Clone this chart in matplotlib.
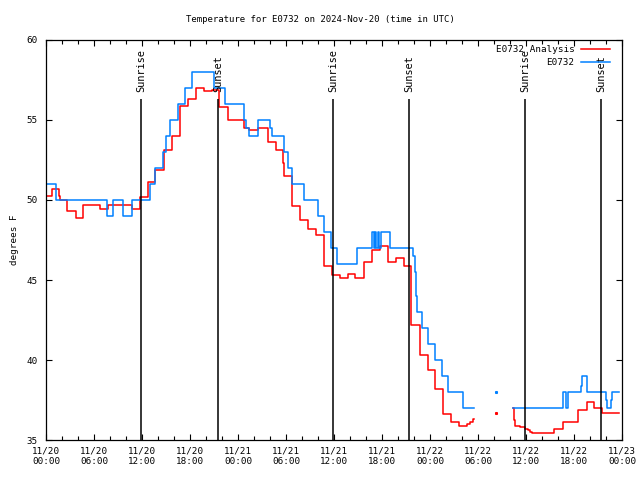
import datetime
import numpy as np
import matplotlib
matplotlib.use("Agg")
import matplotlib.pyplot as plt
import matplotlib.dates as mdates

# Data (hours after 2024-11-20 00:00 UTC, degrees F)
START = datetime.datetime(2024, 11, 20, 0, 0)

obs_hours = [0.0, 1.3, 7.6, 8.4, 9.67, 10.8, 13.0, 13.6, 14.6, 15.0, 15.5, 16.5,
             17.4, 18.2, 18.3, 21.0, 22.4, 24.8, 25.0, 25.4, 26.5, 28.0, 28.25,
             29.8, 30.3, 30.8, 32.3, 34.0, 34.8, 35.6, 36.4, 38.9, 40.7, 40.95,
             41.1, 41.25, 41.45, 41.6, 41.9, 43.0, 45.9, 46.1, 46.25, 46.4, 46.95,
             47.05, 47.7, 48.6, 49.5, 50.3, 52.1, 53.4, 53.5,
             58.4, 64.6, 64.95, 65.2, 66.9, 66.95, 67.6, 70.0, 70.15, 70.6, 70.75, 71.6]
obs_temp = [51, 50, 49, 50, 49, 50, 51, 52, 53, 54, 55, 56,
            57, 57.6, 58, 57, 56, 55, 54.5, 54, 55, 54.5, 54,
            53, 52, 51, 50, 49, 48, 47, 46, 47, 48, 47,
            48, 47, 48, 47, 48, 47, 46.5, 45.5, 44, 43, 42.5,
            42, 41, 40, 39, 38, 37, 37, np.nan,
            37, 38, 37, 38, 38.4, 39, 38, 37.5, 37, 37.5, 38, 38]

ana_hours = [0.0, 0.8, 1.67, 1.8, 2.67, 3.75, 4.67, 6.75, 7.8, 10.8, 11.75, 12.8,
             13.6, 14.7, 15.8, 16.7, 16.8, 17.7, 18.7, 19.7, 20.7, 21.6, 22.7,
             24.8, 25.4, 26.5, 27.7, 28.7, 29.65, 29.7, 30.7, 30.75, 31.7, 31.75,
             32.7, 32.75, 33.75, 34.75, 34.8, 35.7, 35.75, 36.7, 37.7, 38.65,
             39.7, 40.7, 41.75, 42.7, 43.7, 44.7, 45.6, 46.7, 47.7, 47.8, 48.6,
             49.6, 49.65, 50.6, 51.6, 52.2, 52.6, 53.0, 53.4, 53.5,
             58.4, 58.45, 58.6, 59.3, 59.9, 60.2, 60.5, 60.7, 63.5, 64.6, 66.5,
             67.6, 68.5, 69.5, 71.6]
ana_temp = [50.25, 50.7, 50.25, 50.0, 49.3, 48.85, 49.7, 49.45, 49.7, 49.45, 50.2, 51.1,
            51.9, 53.1, 54.0, 55.0, 55.9, 56.3, 57.0, 56.8, 56.85, 55.8, 55.0,
            54.5, 54.4, 54.5, 53.6, 53.1, 52.3, 51.5, 50.6, 49.6, 49.2, 48.75,
            48.5, 48.2, 47.8, 46.9, 45.9, 45.5, 45.3, 45.1, 45.4, 45.1,
            46.1, 46.9, 47.1, 46.1, 46.35, 45.9, 42.2, 40.3, 40.0, 39.4, 38.2,
            37.4, 36.6, 36.1, 35.9, 35.9, 36.0, 36.15, 36.3, np.nan,
            37.0, 36.25, 35.9, 35.8, 35.7, 35.6, 35.5, 35.45, 35.67, 36.1, 36.9,
            37.35, 37.0, 36.7, 36.7]

# lone readings inside the data gap
obs_spot_hours = [56.25]
obs_spot_temp = [38]
ana_spot_hours = [56.25]
ana_spot_temp = [36.7]

sun_hours = [11.875, 21.5, 35.875, 45.375, 59.875, 69.375]
sun_labels = ["Sunrise", "Sunset", "Sunrise", "Sunset", "Sunrise", "Sunset"]


def to_dates(hours):
    return [START + datetime.timedelta(hours=h) for h in hours]


plt.rcParams['font.family'] = 'DejaVu Sans Mono'
plt.rcParams['font.size'] = 6.7

fig = plt.figure(figsize=(6.4, 4.8), dpi=100)
ax = fig.add_axes([46 / 640, 40 / 480, 576 / 640, 400 / 480])

ax.plot(to_dates(ana_hours), ana_temp, drawstyle='steps-post', color='#ff0000',
        linewidth=1.1, label='E0732 Analysis')
ax.plot(to_dates(obs_hours), obs_temp, drawstyle='steps-post', color='#0080ff',
        linewidth=1.1, label='E0732')
ax.plot(to_dates(ana_spot_hours), ana_spot_temp, 's', color='#ff0000', markersize=1.2)
ax.plot(to_dates(obs_spot_hours), obs_spot_temp, 's', color='#0080ff', markersize=1.2)

# sunrise / sunset markers
for h, name in zip(sun_hours, sun_labels):
    t = to_dates([h])[0]
    ax.vlines(t, 35, 56.3, color='black', linewidth=1.1)
    ax.text(t, 56.75, name, rotation=90, ha='center', va='bottom', fontsize=7.4)

ax.set_xlim(START, START + datetime.timedelta(hours=72))
ax.set_ylim(35, 60)
ax.set_yticks([35, 40, 45, 50, 55, 60])
ax.xaxis.set_major_locator(mdates.HourLocator(byhour=[0, 6, 12, 18]))
ax.xaxis.set_minor_locator(mdates.HourLocator(interval=2))
ax.xaxis.set_major_formatter(mdates.DateFormatter('%m/%d\n%H:%M'))
ax.tick_params(which='both', direction='in', top=True, right=True)
ax.tick_params(which='major', length=4, width=0.8)
ax.tick_params(which='minor', length=3, width=0.8)
ax.tick_params(axis='y', pad=6)
ax.tick_params(axis='x', pad=5)
for s in ax.spines.values():
    s.set_linewidth(0.9)

ax.set_ylabel('degrees F', labelpad=5)
fig.text(0.5, 1 - 20 / 480, 'Temperature for E0732 on 2024-Nov-20 (time in UTC)',
         ha='center', va='center', fontsize=6.5)

ax.legend(loc='upper right', bbox_to_anchor=(0.994, 1.008), frameon=False,
          markerfirst=False, handlelength=3.1, handletextpad=0.75,
          borderpad=0.4, labelspacing=0.4)

fig.savefig('out.png', dpi=100)
